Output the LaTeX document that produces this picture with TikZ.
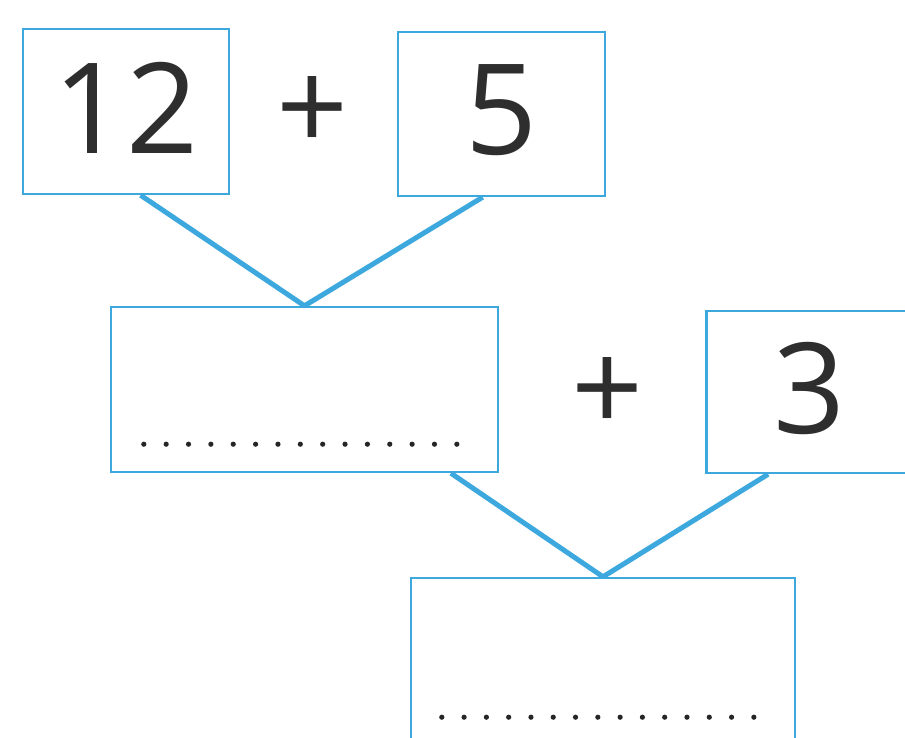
\documentclass[tikz,border=0pt]{standalone}
\usepackage{fontspec}
\setmainfont{Open Sans}
\usetikzlibrary{calc}
\definecolor{lineblue}{HTML}{3CA8DE}
\definecolor{digit}{HTML}{2E2E2E}
\tikzset{
  numbox/.style={draw=lineblue, line width=2.4pt, inner sep=0pt, text=digit,
     font=\fontsize{126}{126}\selectfont},
  conn/.style={draw=lineblue, line width=5pt},
  opsign/.style={inner sep=0pt, text=digit, font=\fontsize{126}{126}\selectfont},
  dotmark/.style={fill=black!85}
}
\begin{document}
\begin{tikzpicture}[x=1pt,y=1pt]
\clip (0,0) rectangle (905,-737);
\fill[white] (0,0) rectangle (905,-737);
% boxes
\node[numbox, minimum width=206pt, minimum height=165pt] (b12) at (126,-111.5) {\raisebox{8pt}{12}};
\node[numbox, minimum width=207pt, minimum height=164pt] (b5) at (501.5,-114) {\raisebox{8pt}{5}};
\node[numbox, minimum width=387pt, minimum height=165pt] (mid) at (304.5,-389.5) {};
\node[numbox, minimum width=207pt, minimum height=162pt] (b3) at (810,-392) {\raisebox{8pt}{3}};
\node[numbox, minimum width=384pt, minimum height=165pt] (res) at (603,-660.5) {};
% plus signs
\node[opsign] (p1) at (313,-114) {+};
\node[opsign] (p2) at (608,-395) {+};
% connectors
\draw[conn] ($(b12.south west)!0.57!(b12.south east)$) -- (mid.north);
\draw[conn] ($(b5.south west)!0.41!(b5.south east)$) -- (mid.north);
\draw[conn] ($(mid.south west)!0.876!(mid.south east)$) -- (res.north);
\draw[conn] ($(b3.south west)!0.30!(b3.south east)$) -- (res.north);
% dotted answer lines
\foreach \i in {0,...,14} {
  \fill[dotmark] ($(mid.south west)+(34+\i*22.36,29)$) circle (2.6pt);
  \fill[dotmark] ($(res.south west)+(32+\i*22.29,27)$) circle (2.6pt);
}
\end{tikzpicture}
\end{document}
